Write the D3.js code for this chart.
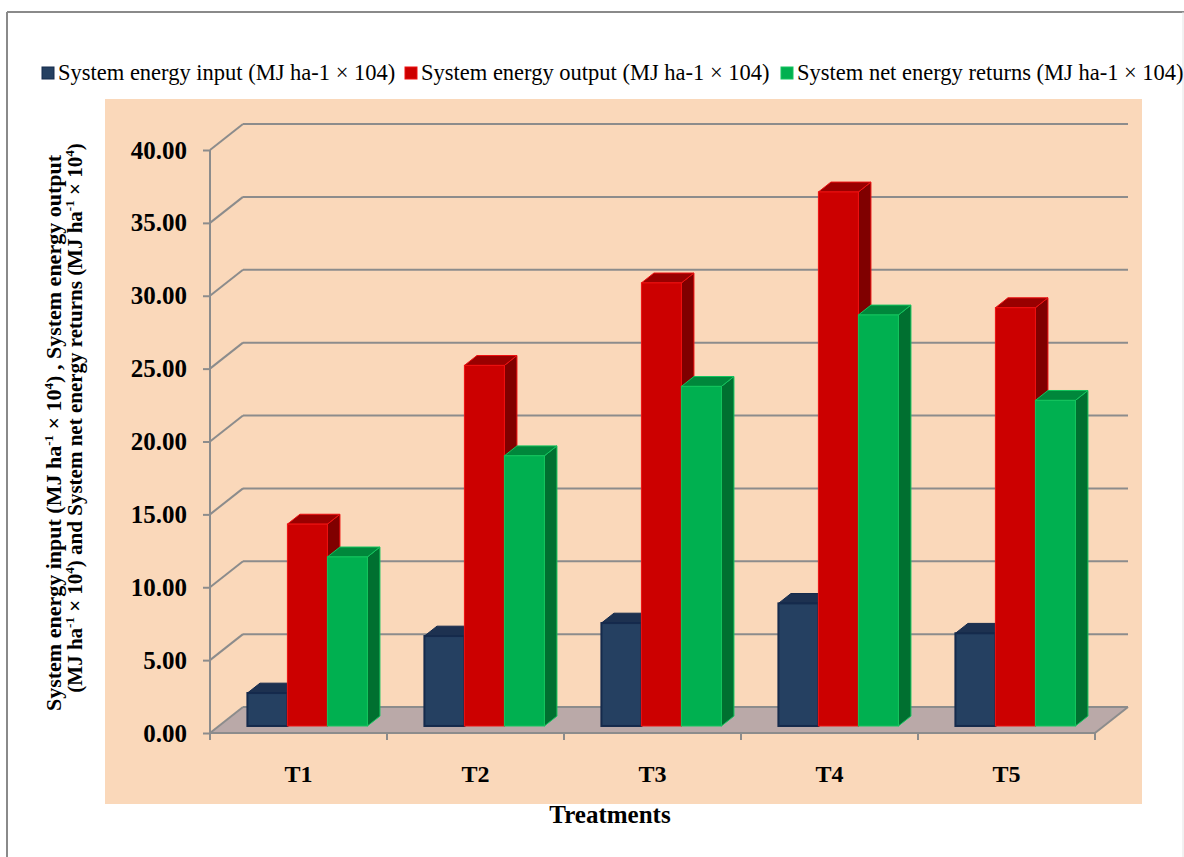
<!DOCTYPE html>
<html>
<head>
<meta charset="utf-8">
<script src="https://cdn.jsdelivr.net/npm/d3@7"></script>
<style>
  html, body { margin: 0; padding: 0; background: #fff; }
  svg { display: block; font-family: "Liberation Serif", "Times New Roman", serif; }
</style>
</head>
<body>
<svg id="chart" width="1184" height="857"></svg>
<script>
// Treatments and energy values (MJ ha-1 × 10^4)
const categories = ["T1", "T2", "T3", "T4", "T5"];
const energyInput = [2.26, 6.17, 7.06, 8.41, 6.36];
const energyOutput = [13.85, 24.74, 30.4, 36.64, 28.7];
const netReturns = [11.6, 18.54, 23.3, 28.2, 22.34];
const seriesNames = [
  "System energy input (MJ ha-1 × 104)",
  "System energy output (MJ ha-1 × 104)",
  "System net energy returns (MJ ha-1 × 104)"
];
const yTicks = [0, 5, 10, 15, 20, 25, 30, 35, 40];

const seriesValues = [energyInput, energyOutput, netReturns];
const palette = [
  { front: "#254061", top: "#1d3150", side: "#182a45", stroke: "#152a4c" },
  { front: "#cc0000", top: "#990000", side: "#800000", stroke: "#ee1111" },
  { front: "#00b050", top: "#00873b", side: "#007030", stroke: "#14c45e" }
];

const svg = d3.select("#chart");

// outer frame
svg.append("line").attr("x1", 7).attr("y1", 12).attr("x2", 1184).attr("y2", 12)
  .attr("stroke", "#8a8a8a").attr("stroke-width", 2);
svg.append("line").attr("x1", 7).attr("y1", 12).attr("x2", 7).attr("y2", 857)
  .attr("stroke", "#8a8a8a").attr("stroke-width", 2);
svg.append("line").attr("x1", 1183).attr("y1", 12).attr("x2", 1183).attr("y2", 857)
  .attr("stroke", "#e4e4e4").attr("stroke-width", 1);

// plot area background
svg.append("rect").attr("x", 105).attr("y", 99).attr("width", 1037).attr("height", 705)
  .attr("fill", "#fad8ba");

// scales
const x = d3.scaleBand().domain(categories).range([210, 1095]).padding(0);
const y = d3.scaleLinear().domain([0, 40]).range([733, 150]);
const inner = d3.scaleBand().domain([0, 1, 2]).range([0, 120]).padding(0);
const depth = { dx: 33, dy: -26 };          // floor depth vector
const barFront = 0.27, barBack = 0.65;      // bar position along depth

const xLeft = 210, xRight = 1095;

// floor
svg.append("polygon")
  .attr("points", [
    [xLeft, y(0)], [xRight, y(0)],
    [xRight + depth.dx, y(0) + depth.dy], [xLeft + depth.dx, y(0) + depth.dy]
  ].map(p => p.join(",")).join(" "))
  .attr("fill", "#baa9a8");

// gridlines on back wall and side wall
const grid = svg.append("g").attr("stroke", "#8c8c8c").attr("stroke-width", 2).attr("fill", "none");
yTicks.forEach(v => {
  grid.append("line")
    .attr("x1", xLeft + depth.dx).attr("y1", y(v) + depth.dy)
    .attr("x2", xRight + depth.dx).attr("y2", y(v) + depth.dy);
  grid.append("line")
    .attr("x1", xLeft).attr("y1", y(v))
    .attr("x2", xLeft + depth.dx).attr("y2", y(v) + depth.dy);
});
// floor front edge and right edge
grid.append("line").attr("x1", xLeft).attr("y1", y(0)).attr("x2", xRight).attr("y2", y(0));
grid.append("line").attr("x1", xRight).attr("y1", y(0))
  .attr("x2", xRight + depth.dx).attr("y2", y(0) + depth.dy);

// y axis
const yAxis = d3.axisLeft(y).tickValues(yTicks).tickSize(7).tickPadding(16)
  .tickFormat(d3.format(".2f"));
const yg = svg.append("g").attr("transform", `translate(${xLeft},0)`).call(yAxis);
yg.select(".domain").remove();
yg.append("line").attr("x1", 0).attr("x2", 0).attr("y1", y(40)).attr("y2", y(0) + 7)
  .attr("stroke", "#8c8c8c").attr("stroke-width", 2);
yg.selectAll(".tick line").attr("stroke", "#8c8c8c").attr("stroke-width", 2);
yg.selectAll(".tick text").attr("fill", "#000").attr("font-size", 25)
  .attr("font-weight", "bold").attr("font-family", "Liberation Serif");

// x axis
const xAxis = d3.axisBottom(x).tickSize(0).tickPadding(32);
const xg = svg.append("g").attr("transform", `translate(0,${y(0)})`).call(xAxis);
xg.select(".domain").remove();
xg.selectAll(".tick text").attr("fill", "#000").attr("font-size", 24)
  .attr("font-weight", "bold").attr("font-family", "Liberation Serif");
// category separator ticks
const sepTicks = categories.map(c => x(c)).concat([xRight]);
svg.append("g").selectAll("line").data(sepTicks).join("line")
  .attr("x1", d => d).attr("x2", d => d).attr("y1", y(0)).attr("y2", y(0) + 7)
  .attr("stroke", "#8c8c8c").attr("stroke-width", 2);

// 3D bars
const fOff = { dx: depth.dx * barFront, dy: depth.dy * barFront };
const bDepth = { dx: depth.dx * (barBack - barFront), dy: depth.dy * (barBack - barFront) };
const barsG = svg.append("g");
const innerOffset = (x.bandwidth() - 120) / 2;

categories.forEach((c, i) => {
  seriesValues.forEach((vals, s) => {
    const v = vals[i];
    const col = palette[s];
    const x1 = x(c) + innerOffset + inner(s) + fOff.dx;
    const x2 = x1 + inner.bandwidth();
    const yt = y(v) + fOff.dy;
    const yb = y(0) + fOff.dy;
    const g = barsG.append("g");
    const pts = a => a.map(p => p.join(",")).join(" ");
    g.append("polygon")
      .attr("points", pts([[x2, yt], [x2 + bDepth.dx, yt + bDepth.dy], [x2 + bDepth.dx, yb + bDepth.dy], [x2, yb]]))
      .attr("fill", col.side).attr("stroke", col.stroke).attr("stroke-width", 1);
    g.append("polygon")
      .attr("points", pts([[x1, yt], [x2, yt], [x2 + bDepth.dx, yt + bDepth.dy], [x1 + bDepth.dx, yt + bDepth.dy]]))
      .attr("fill", col.top).attr("stroke", col.stroke).attr("stroke-width", 1);
    g.append("rect")
      .attr("x", x1).attr("y", yt).attr("width", inner.bandwidth()).attr("height", yb - yt)
      .attr("fill", col.front).attr("stroke", col.stroke).attr("stroke-width", s === 0 ? 2 : 1);
  });
});

// legend
const legendX = [42, 405, 781];
const legend = svg.append("g");
seriesNames.forEach((name, s) => {
  legend.append("rect").attr("x", legendX[s]).attr("y", 67).attr("width", 12).attr("height", 12)
    .attr("fill", palette[s].front).attr("stroke", palette[s].stroke).attr("stroke-width", 1);
  legend.append("text").attr("x", legendX[s] + 16).attr("y", 80)
    .attr("font-size", 22.5).attr("fill", "#000").text(name);
});

// y axis title (two lines, rotated), superscripts shifted on their own tspans
function titleLine(xPos, yCenter, size, parts) {
  const t = svg.append("text")
    .attr("transform", `translate(${xPos},${yCenter}) rotate(-90)`)
    .attr("text-anchor", "middle").attr("font-size", size).attr("font-weight", "bold").attr("fill", "#000");
  let raised = false;
  parts.forEach(p => {
    const ts = t.append("tspan");
    if (p.sup) {
      ts.attr("font-size", 13).attr("dy", -8).text(p.sup);
      raised = true;
    } else {
      if (raised) { ts.attr("dy", 8); raised = false; }
      ts.text(p.t);
    }
  });
}
titleLine(61, 433, 22, [
  { t: "System energy input (MJ ha" }, { sup: "-1" }, { t: " × 10" }, { sup: "4" },
  { t: ") , System energy output" }
]);
titleLine(82, 418, 21, [
  { t: "(MJ ha" }, { sup: "-1" }, { t: " × 10" }, { sup: "4" },
  { t: ")  and System net energy returns (MJ ha" }, { sup: "-1" }, { t: " × 10" }, { sup: "4" }, { t: ")" }
]);

// x axis title
svg.append("text").attr("x", 610).attr("y", 823).attr("text-anchor", "middle")
  .attr("font-size", 25).attr("font-weight", "bold").attr("fill", "#000").text("Treatments");
</script>
</body>
</html>
